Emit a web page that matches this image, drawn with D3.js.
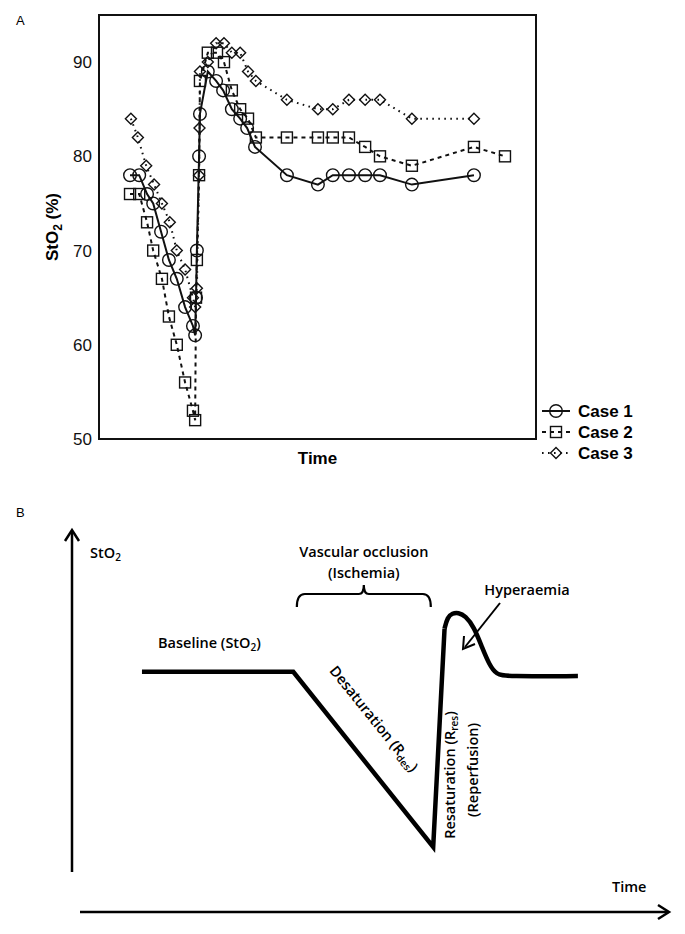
<!DOCTYPE html>
<html><head><meta charset="utf-8">
<script src="https://cdn.jsdelivr.net/npm/d3@7"></script>
<style>
body{margin:0;background:#fff;}
svg{display:block;}
.ta{font-family:"Liberation Sans",Arial,sans-serif;}
.tb{font-family:"Open Sans","Noto Sans",sans-serif;font-weight:600;}
</style></head>
<body>
<svg id="c" width="685" height="934"></svg>
<script>
// ---------- Panel A data ----------
const yTicks = [50, 60, 70, 80, 90];
const case1Time = [7.1,9.2,11.0,12.4,14.2,16.0,17.8,19.7,21.5,22.0,22.2,22.4,22.9,23.1,24.9,26.8,28.4,30.4,32.3,33.9,35.7,43.0,50.1,53.5,57.2,60.9,64.3,71.6,85.8];
const case1Value = [78,78,76,75,72,69,67,64,62,61,65,70,80,84.5,89,88,87,85,84,83,81,78,77,78,78,78,78,77,78];
const case2Time = [7.1,9.2,11.0,12.4,14.4,16.0,17.8,19.7,21.5,22.0,22.2,22.4,22.9,23.1,24.9,27.0,28.6,30.4,32.3,34.1,35.9,43.0,50.1,53.5,57.2,60.9,64.3,71.6,85.8,92.9];
const case2Value = [76,76,73,70,67,63,60,56,53,52,65,69,78,88,91,91,90,87,85,84,82,82,82,82,82,81,80,79,81,80];
const case3Time = [7.3,8.9,10.8,12.6,14.4,16.2,17.8,19.7,21.5,22.0,22.4,22.9,23.0,23.1,24.9,26.8,28.6,30.4,32.3,34.1,35.9,43.0,50.1,53.5,57.2,60.9,64.3,71.6,85.8];
const case3Value = [84,82,79,77,75,73,70,68,65,64,66,78,83,89,90,92,92,91,91,89,88,86,85,85,86,86,86,84,84];
const caseNames = ["Case 1","Case 2","Case 3"];

// ---------- Panel B schematic data ----------
const schemeLinTime = [11.7,37.0,60.4,62.3];
const schemeLinValue = [62.7,62.7,17.0,74.0];
const schemeHumpTime = [62.3,62.8,63.6,64.6,65.8,67.2,68.6,69.8,71.0,72.6,84.6];
const schemeHumpValue = [74.0,77.0,78.0,78.2,77.3,74.5,69.0,64.5,62.0,61.5,61.6];
const occlusion = [37.6, 60.0];

const svg = d3.select("#c");

// ===== Panel A =====
const A = {l:99, r:536, t:15, b:439};
const xA = d3.scaleLinear().domain([0,100]).range([A.l, A.r]);
const yA = d3.scaleLinear().domain([50,95]).range([A.b, A.t]);

svg.append("text").attr("class","ta").attr("x",16).attr("y",25).attr("font-size",13).text("A");

const gA = svg.append("g");
gA.append("rect").attr("x",A.l).attr("y",A.t).attr("width",A.r-A.l).attr("height",A.b-A.t)
  .attr("fill","none").attr("stroke","#111").attr("stroke-width",2);

const axL = d3.axisLeft(yA).tickValues(yTicks).tickSize(0).tickPadding(7);
const gAx = gA.append("g").attr("transform",`translate(${A.l},0)`).call(axL);
gAx.select(".domain").remove();
gAx.selectAll("text").attr("class","ta").attr("font-size",17).attr("fill","#111");

// axis titles
const yt = gA.append("text").attr("class","ta").attr("font-size",17).attr("font-weight","bold")
  .attr("text-anchor","middle").attr("transform",`translate(58,${(A.t+A.b)/2}) rotate(-90)`);
yt.append("tspan").text("StO");
yt.append("tspan").attr("font-size",12).attr("dy",4).text("2");
yt.append("tspan").attr("dy",-4).text(" (%)");
gA.append("text").attr("class","ta").attr("font-size",17).attr("font-weight","bold")
  .attr("text-anchor","middle").attr("x",(A.l+A.r)/2).attr("y",464).text("Time");

const series = [
  {t:case1Time, v:case1Value, dash:null, w:2, sym:"circle"},
  {t:case2Time, v:case2Value, dash:"4,4", w:2, sym:"square"},
  {t:case3Time, v:case3Value, dash:"1.6,4.4", w:2, sym:"diamond"}
];
const lineA = d3.line().x(d=>xA(d[0])).y(d=>yA(d[1]));

function drawSym(g, sym, x, y){
  if(sym==="circle"){
    g.append("circle").attr("cx",x).attr("cy",y).attr("r",6.3)
      .attr("fill","none").attr("stroke","#111").attr("stroke-width",1.4);
  } else if(sym==="square"){
    g.append("rect").attr("x",x-5.5).attr("y",y-5.5).attr("width",11).attr("height",11)
      .attr("fill","none").attr("stroke","#111").attr("stroke-width",1.4);
  } else {
    g.append("path").attr("d",`M${x},${y-5.5}L${x+5.5},${y}L${x},${y+5.5}L${x-5.5},${y}Z`)
      .attr("fill","none").attr("stroke","#111").attr("stroke-width",1.4);
  }
}

series.forEach(s=>{
  const pts = s.t.map((t,i)=>[t, s.v[i]]);
  gA.append("path").datum(pts).attr("d",lineA).attr("fill","none").attr("stroke","#111")
    .attr("stroke-width",s.w).attr("stroke-dasharray",s.dash);
  const gs = gA.append("g");
  pts.forEach(p=>drawSym(gs, s.sym, xA(p[0]), yA(p[1])));
});

// legend
const legY = d3.scalePoint().domain(caseNames).range([411,453]);
caseNames.forEach((n,i)=>{
  const s = series[i], y = legY(n);
  svg.append("line").attr("x1",542).attr("x2",570).attr("y1",y).attr("y2",y)
    .attr("stroke","#111").attr("stroke-width",2).attr("stroke-dasharray",s.dash);
  drawSym(svg, s.sym, 556, y);
  svg.append("text").attr("class","ta").attr("x",578).attr("y",y).attr("dy","0.36em")
    .attr("font-size",17).attr("font-weight","bold").text(n);
});

// ===== Panel B =====
svg.append("text").attr("class","ta").attr("x",16).attr("y",517).attr("font-size",13).text("B");
const xB = d3.scaleLinear().domain([0,100]).range([72,670]);
const yB = d3.scaleLinear().domain([0,100]).range([912,529]);
const gB = svg.append("g");
const FS = 14.5, SFS = 10;

// axes arrows
gB.append("line").attr("x1",72).attr("x2",72).attr("y1",872).attr("y2",531)
  .attr("stroke","#000").attr("stroke-width",2.5);
gB.append("path").attr("d","M65,541L72,530L79,541").attr("fill","none").attr("stroke","#000").attr("stroke-width",2.5);
gB.append("line").attr("x1",80).attr("x2",668).attr("y1",912).attr("y2",912)
  .attr("stroke","#000").attr("stroke-width",2.5);
gB.append("path").attr("d","M658,905L669,912L658,919").attr("fill","none").attr("stroke","#000").attr("stroke-width",2.5);

const stl = gB.append("text").attr("class","tb").attr("x",90).attr("y",558).attr("font-size",FS);
stl.append("tspan").text("StO");
stl.append("tspan").attr("font-size",SFS).attr("dy",3).text("2");
gB.append("text").attr("class","tb").attr("x",612).attr("y",892).attr("font-size",FS).text("Time");

// curve
const lineB = d3.line().x(d=>xB(d[0])).y(d=>yB(d[1]));
gB.append("path").datum(schemeLinTime.map((t,i)=>[t,schemeLinValue[i]])).attr("d",lineB)
  .attr("fill","none").attr("stroke","#000").attr("stroke-width",4.5).attr("stroke-linejoin","miter").attr("stroke-linecap","butt");
gB.append("path").datum(schemeHumpTime.map((t,i)=>[t,schemeHumpValue[i]])).attr("d",lineB.curve(d3.curveBasis))
  .attr("fill","none").attr("stroke","#000").attr("stroke-width",4.5).attr("stroke-linecap","butt");

// brace
const bx0 = xB(occlusion[0]), bx1 = xB(occlusion[1]), bm=(bx0+bx1)/2, by=594;
gB.append("path").attr("d",`M${bx0},${by+13}Q${bx0},${by} ${bx0+8},${by} L${bm-5},${by} Q${bm},${by} ${bm},${by-9} Q${bm},${by} ${bm+5},${by} L${bx1-8},${by} Q${bx1},${by} ${bx1},${by+13}`)
  .attr("fill","none").attr("stroke","#000").attr("stroke-width",2.2);

gB.append("text").attr("class","tb").attr("x",bm).attr("y",557).attr("text-anchor","middle").attr("font-size",FS).text("Vascular occlusion");
gB.append("text").attr("class","tb").attr("x",bm).attr("y",578).attr("text-anchor","middle").attr("font-size",FS).text("(Ischemia)");

const bl = gB.append("text").attr("class","tb").attr("x",158).attr("y",648).attr("font-size",FS);
bl.append("tspan").text("Baseline (StO");
bl.append("tspan").attr("font-size",SFS).attr("dy",3).text("2");
bl.append("tspan").attr("dy",-3).text(")");

gB.append("text").attr("class","tb").attr("x",527).attr("y",595).attr("text-anchor","middle").attr("font-size",FS).text("Hyperaemia");
gB.append("line").attr("x1",500).attr("y1",603).attr("x2",465).attr("y2",647).attr("stroke","#000").attr("stroke-width",2);
gB.append("path").attr("d","M464,636L463,649L475,644").attr("fill","none").attr("stroke","#000").attr("stroke-width",2);

const ds = gB.append("text").attr("class","tb").attr("font-size",FS).attr("text-anchor","middle")
  .attr("transform","translate(370,722) rotate(51)");
ds.append("tspan").text("Desaturation (R");
ds.append("tspan").attr("font-size",SFS).attr("dy",3).text("des");
ds.append("tspan").attr("dy",-3).text(")");

const rs = gB.append("text").attr("class","tb").attr("font-size",FS).attr("text-anchor","middle")
  .attr("transform","translate(455,775) rotate(-90)");
rs.append("tspan").text("Resaturation (R");
rs.append("tspan").attr("font-size",SFS).attr("dy",3).text("res");
rs.append("tspan").attr("dy",-3).text(")");
gB.append("text").attr("class","tb").attr("font-size",FS).attr("text-anchor","middle")
  .attr("transform","translate(478,770) rotate(-90)").text("(Reperfusion)");
</script>
</body></html>
